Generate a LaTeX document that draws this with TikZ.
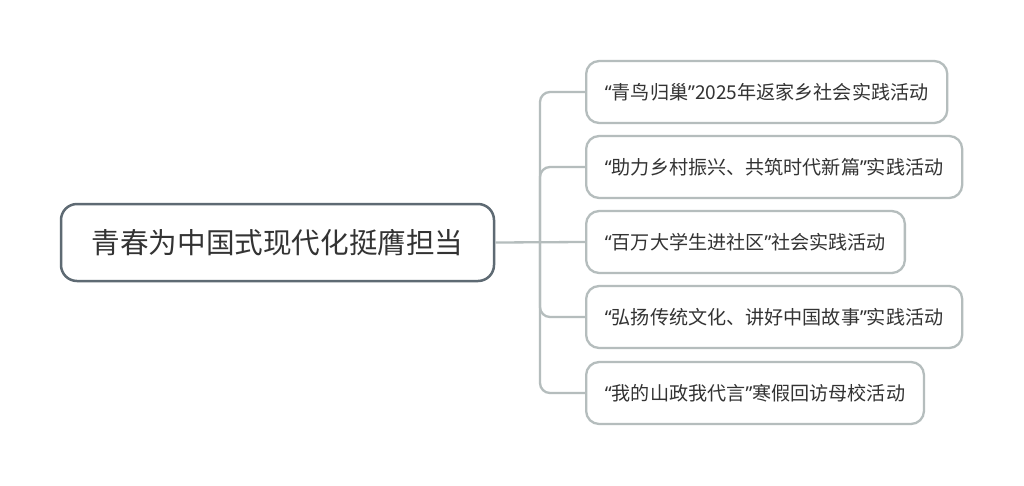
\documentclass[tikz,border=0pt]{standalone}
\usepackage{fontspec}
\setmainfont{Noto Sans CJK SC}
\newfontfamily\latf{Noto Sans}
\newcommand\myoq{{\latf “}}
\newcommand\mycq{{\latf ”}}
\begin{document}
\begin{tikzpicture}[x=1pt,y=-1pt,
  rootbox/.style={draw=rootc, line width=2.5pt, rounded corners=16pt, fill=white,
    minimum width=433pt, minimum height=77pt, inner sep=0pt, text=txt,
    font=\fontsize{28.6}{29}\selectfont},
  childbox/.style={draw=childc, line width=2.3pt, rounded corners=13pt, fill=white,
    minimum height=62pt, inner xsep=18.8pt, inner ysep=0pt, anchor=west, text=txt,
    font=\fontsize{19.1}{19}\selectfont},
  conn/.style={draw=childc, line width=2.3pt, rounded corners=10pt}]
\definecolor{rootc}{HTML}{5E6A73}
\definecolor{childc}{HTML}{B5BDBD}
\definecolor{txt}{HTML}{333333}
\useasboundingbox[fill=white] (0,0) rectangle (1024,485);
\coordinate (j) at (540,242);
\node[rootbox] (root) at (277.5,242.5) {青春为中国式现代化挺膺担当};
\node[childbox] (c1) at (585,92) {\myoq 青鸟归巢\mycq 2025年返家乡社会实践活动};
\node[childbox] (c2) at (585,167) {\myoq 助力乡村振兴、共筑时代新篇\mycq 实践活动};
\node[childbox] (c3) at (585,242) {\myoq 百万大学生进社区\mycq 社会实践活动};
\node[childbox] (c4) at (585,317) {\myoq 弘扬传统文化、讲好中国故事\mycq 实践活动};
\node[childbox] (c5) at (585,393) {\myoq 我的山政我代言\mycq 寒假回访母校活动};
\draw[conn] (root.east) -- (c3.west);
\draw[conn] (j) |- (c1.west);
\draw[conn] (j) |- (c2.west);
\draw[conn] (j) |- (c4.west);
\draw[conn] (j) |- (c5.west);
\end{tikzpicture}
\end{document}
